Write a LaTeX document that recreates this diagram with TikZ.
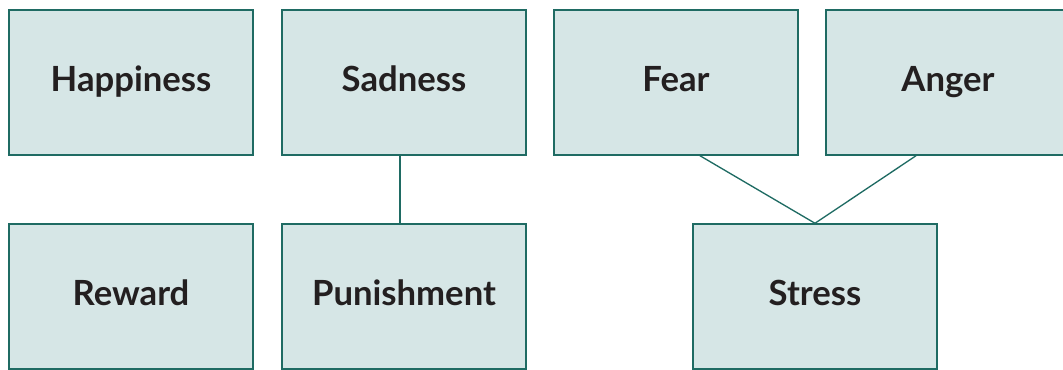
\documentclass[tikz,border=0pt]{standalone}
\usepackage{fontspec}
\setmainfont{Lato}
\usetikzlibrary{positioning}
\definecolor{boxfill}{HTML}{D6E6E6}
\definecolor{boxline}{HTML}{1F6B63}
\definecolor{boxtext}{HTML}{231F20}
\begin{document}
\begin{tikzpicture}[x=0.75pt,y=-0.75pt,
  emo/.style={draw=boxline,fill=boxfill,line width=1.1pt,minimum width=183pt,minimum height=108.75pt,
    inner sep=0pt,text height=19pt,text depth=4.8pt,text=boxtext,font=\fontsize{26}{30}\selectfont\bfseries},
  link/.style={draw=boxline,line width=1pt}]
\clip (0,0) rectangle (1063,369);
  \node[emo] (happy) at (131,82.5){Happiness};
  \node[emo] (sad) at (404,82.5){Sadness};
  \node[emo] (fear) at (676,82.5){Fear};
  \node[emo] (anger) at (948,82.5){Anger};
  \node[emo] (reward) at (131,296.5){Reward};
  \node[emo] (punish) at (404,296.5){Punishment};
  \node[emo] (stress) at (815,296.5){Stress};
  \draw[link]([xshift=-3pt]sad.south)--([xshift=-3pt]punish.north);
  \draw[link]([xshift=18pt]fear.south)--(stress.north);
  \draw[link]([xshift=-24pt]anger.south)--(stress.north);
\end{tikzpicture}
\end{document}
